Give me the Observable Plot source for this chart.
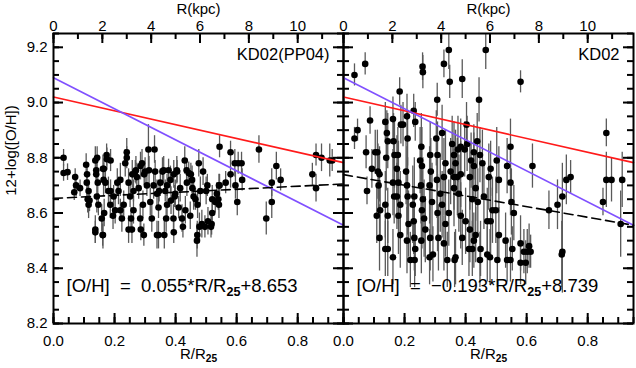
<!DOCTYPE html>
<html><head><meta charset="utf-8">
<script src="https://cdn.jsdelivr.net/npm/d3@7"></script>
<script src="https://cdn.jsdelivr.net/npm/@observablehq/plot@0.6"></script>
<style>
body{margin:0;background:#fff;}
#wrap{position:relative;width:636px;height:368px;overflow:hidden;}
#wrap svg{position:absolute;top:0;}
</style></head>
<body><div id="wrap"></div>
<script>
// ---- scale / axis values ----
const R25_KPC = 12.5;                 // kpc per R25 (top axis)
const xDomain = [0, 0.95];
const yDomain = [8.2, 9.25];
const xMajorTicks = [0, 0.2, 0.4, 0.6, 0.8];
const kpcMajorTicks = [0, 2, 4, 6, 8, 10];
const yMajorTicks = [8.2, 8.4, 8.6, 8.8, 9.0, 9.2];

// ---- panel titles, fit texts ----
const panelTitles = ["KD02(PP04)", "KD02"];
const fitTexts = ["[O/H]  =  0.055*R/R25+8.653", "[O/H]  =  \u22120.193*R/R25+8.739"];

// ---- gradient lines ----
// fitted (dashed): [slope per R/R25, intercept]
const fitLeft = [0.055, 8.653];
const fitRight = [-0.193, 8.739];
// reference gradients (slope per kpc, intercept)
const redRef = [-0.020, 9.02];
const purpleRef = [-0.045, 9.09];

// ---- data: [R/R25, 12+log(O/H), error] ----
const leftPoints = [
[0.033,8.80,0.03],[0.033,8.745,0.03],[0.046,8.748,0.03],[0.071,8.73,0.03],[0.074,8.70,0.04],[0.068,8.675,0.03],[0.087,8.69,0.03],
[0.107,8.775,0.04],[0.11,8.74,0.04],[0.109,8.71,0.05],[0.115,8.68,0.04],[0.112,8.65,0.05],[0.118,8.645,0.04],[0.115,8.63,0.05],
[0.137,8.79,0.05],[0.143,8.80,0.04],[0.14,8.755,0.05],[0.14,8.74,0.04],[0.145,8.71,0.05],[0.137,8.54,0.05],[0.137,8.53,0.04],[0.142,8.66,0.06],[0.147,8.63,0.04],
[0.162,8.76,0.05],[0.165,8.76,0.04],[0.164,8.72,0.06],[0.17,8.71,0.04],[0.162,8.52,0.05],[0.161,8.52,0.04],[0.158,8.58,0.05],[0.166,8.60,0.05],
[0.174,8.81,0.04],[0.175,8.795,0.04],[0.187,8.79,0.04],[0.18,8.68,0.05],[0.187,8.68,0.04],[0.186,8.63,0.05],[0.195,8.59,0.05],[0.197,8.66,0.04],[0.202,8.61,0.05],
[0.209,8.71,0.05],[0.213,8.68,0.05],[0.219,8.61,0.04],[0.224,8.58,0.05],[0.23,8.63,0.05],[0.219,8.72,0.06],
[0.235,8.78,0.05],[0.24,8.82,0.05],[0.24,8.80,0.04],[0.246,8.71,0.05],[0.246,8.54,0.05],[0.251,8.66,0.04],[0.257,8.54,0.05],[0.254,8.58,0.04],[0.258,8.74,0.05],[0.262,8.61,0.05],[0.262,8.68,0.04],
[0.268,8.75,0.04],[0.27,8.755,0.05],[0.273,8.73,0.05],[0.279,8.69,0.04],[0.284,8.58,0.05],[0.285,8.77,0.05],[0.29,8.78,0.05],[0.293,8.63,0.05],[0.286,8.54,0.04],[0.296,8.52,0.04],[0.297,8.74,0.04],
[0.30,8.75,0.05],[0.306,8.70,0.04],[0.311,8.83,0.09],[0.313,8.755,0.05],[0.317,8.64,0.05],[0.322,8.58,0.05],[0.328,8.70,0.05],[0.331,8.83,0.05],[0.333,8.75,0.04],[0.339,8.67,0.05],[0.339,8.52,0.05],[0.344,8.62,0.04],[0.344,8.52,0.05],[0.346,8.68,0.04],
[0.35,8.71,0.05],[0.357,8.75,0.05],[0.361,8.755,0.05],[0.363,8.52,0.05],[0.366,8.68,0.04],[0.369,8.58,0.05],[0.372,8.63,0.05],[0.372,8.70,0.04],[0.377,8.755,0.04],[0.383,8.72,0.05],[0.385,8.645,0.05],[0.394,8.74,0.05],[0.394,8.53,0.04],[0.393,8.58,0.05],[0.397,8.66,0.04],
[0.399,8.67,0.05],[0.404,8.755,0.05],[0.405,8.75,0.04],[0.41,8.62,0.04],[0.415,8.69,0.05],[0.421,8.58,0.05],[0.424,8.55,0.04],[0.43,8.79,0.05],[0.432,8.61,0.05],[0.436,8.755,0.04],[0.437,8.71,0.05],[0.443,8.745,0.04],[0.448,8.59,0.05],[0.45,8.74,0.04],[0.454,8.72,0.05],[0.455,8.69,0.04],[0.459,8.66,0.05],[0.465,8.65,0.04],
[0.47,8.50,0.06],[0.471,8.52,0.05],[0.472,8.63,0.05],[0.476,8.78,0.05],[0.481,8.68,0.05],[0.478,8.55,0.05],[0.49,8.75,0.05],[0.486,8.56,0.05],[0.496,8.55,0.04],[0.5,8.68,0.05],[0.504,8.70,0.04],[0.506,8.57,0.05],[0.516,8.55,0.04],[0.518,8.56,0.04],[0.52,8.65,0.05],[0.52,8.60,0.04],[0.53,8.64,0.04],[0.535,8.67,0.04],[0.542,8.63,0.05],[0.54,8.65,0.04],[0.542,8.70,0.04],[0.544,8.70,0.04],[0.544,8.84,0.04],[0.564,8.71,0.04],
[0.58,8.82,0.04],[0.58,8.74,0.05],[0.594,8.78,0.05],[0.596,8.70,0.05],[0.602,8.64,0.05],[0.605,8.78,0.04],[0.616,8.78,0.04],[0.618,8.72,0.04],
[0.673,8.83,0.05],[0.697,8.58,0.06],[0.715,8.71,0.05],[0.715,8.64,0.06],[0.73,8.77,0.05],[0.744,8.72,0.04],
[0.848,8.74,0.04],[0.86,8.81,0.04],[0.86,8.69,0.05],[0.878,8.80,0.05],[0.905,8.79,0.06],[0.913,8.79,0.04]
];

const rightPoints = [
[0.036,9.10,0.04],[0.071,9.14,0.04],[0.259,9.13,0.05],[0.26,9.11,0.06],[0.329,9.14,0.05],[0.345,9.19,0.07],[0.348,9.075,0.06],[0.389,9.085,0.07],
[0.466,9.19,0.07],[0.58,9.075,0.04],[0.444,9.01,0.08],[0.307,9.01,0.06],[0.184,9.04,0.05],[0.087,8.935,0.05],[0.046,8.90,0.04],[0.036,8.87,0.04],
[0.074,8.82,0.06],[0.077,8.68,0.05],[0.093,8.76,0.07],[0.104,8.82,0.08],[0.111,8.82,0.08],[0.113,8.75,0.10],[0.118,8.74,0.10],[0.115,8.70,0.12],
[0.109,8.59,0.10],[0.118,8.51,0.12],[0.12,8.61,0.10],[0.137,8.93,0.07],[0.142,8.89,0.08],[0.145,8.86,0.10],[0.14,8.80,0.12],[0.137,8.63,0.12],
[0.145,8.59,0.10],[0.137,8.47,0.10],[0.145,8.47,0.10],[0.162,8.94,0.08],[0.164,8.86,0.10],[0.167,8.81,0.12],[0.162,8.71,0.12],[0.166,8.66,0.10],
[0.162,8.44,0.10],[0.188,8.92,0.07],[0.195,8.92,0.08],[0.175,8.76,0.12],[0.178,8.81,0.10],[0.18,8.71,0.15],[0.175,8.66,0.12],[0.186,8.63,0.12],
[0.18,8.59,0.14],[0.186,8.52,0.12],[0.208,8.95,0.08],[0.21,8.87,0.10],[0.205,8.75,0.12],[0.208,8.70,0.14],[0.21,8.66,0.14],[0.213,8.56,0.12],
[0.208,8.50,0.12],[0.23,8.97,0.06],[0.235,8.93,0.07],[0.232,8.66,0.14],[0.227,8.63,0.14],[0.23,8.57,0.12],[0.232,8.51,0.12],[0.235,8.47,0.10],
[0.219,8.43,0.10],[0.233,8.43,0.10],[0.255,8.84,0.12],[0.251,8.79,0.12],[0.257,8.77,0.14],[0.254,8.70,0.14],[0.26,8.65,0.15],[0.257,8.61,0.14],
[0.264,8.58,0.14],[0.268,8.54,0.12],[0.255,8.50,0.12],[0.284,8.81,0.12],[0.286,8.75,0.12],[0.282,8.70,0.14],[0.29,8.64,0.14],[0.284,8.51,0.12],
[0.293,8.45,0.10],[0.282,8.44,0.10],[0.304,8.87,0.10],[0.308,8.81,0.12],[0.306,8.72,0.14],[0.308,8.60,0.14],[0.317,8.67,0.14],[0.311,8.51,0.12],
[0.323,8.89,0.10],[0.403,8.92,0.08],[0.397,8.83,0.10],[0.405,8.85,0.10],[0.384,8.84,0.10],[0.375,8.83,0.12],[0.356,8.85,0.10],[0.362,8.81,0.12],
[0.367,8.78,0.12],[0.373,8.73,0.14],[0.362,8.73,0.12],[0.384,8.74,0.12],[0.362,8.69,0.14],[0.378,8.67,0.14],[0.351,8.75,0.12],[0.334,8.78,0.12],
[0.329,8.73,0.14],[0.427,8.82,0.10],[0.418,8.79,0.10],[0.427,8.77,0.12],[0.414,8.73,0.12],[0.438,8.86,0.10],[0.447,8.81,0.10],[0.455,8.78,0.12],
[0.433,8.69,0.12],[0.422,8.65,0.14],[0.44,8.64,0.12],[0.46,8.66,0.12],[0.482,8.76,0.10],[0.476,8.73,0.12],[0.488,8.61,0.12],[0.471,8.57,0.12],
[0.482,8.57,0.12],[0.502,8.79,0.12],[0.509,8.72,0.12],[0.499,8.61,0.12],[0.547,8.84,0.10],[0.536,8.77,0.10],[0.547,8.71,0.12],[0.55,8.64,0.12],
[0.558,8.60,0.10],[0.58,8.49,0.10],[0.619,8.77,0.08],[0.323,8.63,0.12],[0.334,8.56,0.12],[0.345,8.60,0.12],[0.329,8.49,0.10],[0.34,8.43,0.10],
[0.367,8.44,0.10],[0.364,8.43,0.10],[0.384,8.59,0.12],[0.40,8.57,0.12],[0.389,8.51,0.10],[0.414,8.54,0.12],[0.427,8.50,0.10],[0.422,8.47,0.10],
[0.433,8.52,0.10],[0.411,8.47,0.10],[0.449,8.47,0.10],[0.447,8.43,0.10],[0.471,8.45,0.10],[0.48,8.44,0.10],[0.509,8.52,0.10],[0.504,8.43,0.10],
[0.531,8.50,0.10],[0.536,8.43,0.08],[0.547,8.43,0.08],[0.553,8.47,0.08],[0.58,8.42,0.08],[0.591,8.46,0.08],[0.602,8.46,0.08],[0.608,8.48,0.08],
[0.613,8.46,0.06],[0.597,8.42,0.08],
[0.673,8.61,0.07],[0.701,8.63,0.09],[0.717,8.66,0.12],[0.73,8.72,0.09],[0.744,8.73,0.06],[0.717,8.46,0.15],[0.715,8.45,0.12],
[0.861,8.89,0.05],[0.861,8.72,0.10],[0.878,8.72,0.08],[0.85,8.64,0.05],[0.913,8.72,0.10],[0.908,8.56,0.12]
];

const FONT = '"Liberation Sans", Arial, sans-serif';
const HEIGHT = 368, MARGIN_TOP = 33, MARGIN_BOTTOM = 45;
const PLOT_H = HEIGHT - MARGIN_TOP - MARGIN_BOTTOM;   // 290 px
const PLOT_W = 290;                                   // frame width of each panel
const MAJOR = 10, MINOR = 6, TICK_W = 2;

function toRows(pts) { return pts.map(([r, oh, e]) => ({r, oh, e})); }
function lineRows(slope, intercept, perKpc) {
  return xDomain.map(x => ({x, y: intercept + slope * (perKpc ? x * R25_KPC : x)}));
}

// inward tick marks on all four sides (tick marks inset to their length)
function inwardTicks() {
  const xMinor = d3.range(0, 0.951, 0.05);
  const kpcTicks = kpcMajorTicks.map(k => k / R25_KPC);
  const kpcMinor = d3.range(0, 12).map(k => k / R25_KPC);
  const yMinor = d3.range(8.2, 9.26, 0.05);
  const o = {stroke: "black", strokeWidth: TICK_W};
  return [
    Plot.tickX(xMajorTicks, {...o, x: d => d, insetTop: PLOT_H - MAJOR}),
    Plot.tickX(xMinor, {...o, x: d => d, insetTop: PLOT_H - MINOR}),
    Plot.tickX(kpcTicks, {...o, x: d => d, insetBottom: PLOT_H - MAJOR}),
    Plot.tickX(kpcMinor, {...o, x: d => d, insetBottom: PLOT_H - MINOR}),
    Plot.tickY(yMajorTicks, {...o, y: d => d, insetRight: PLOT_W - MAJOR}),
    Plot.tickY(yMinor, {...o, y: d => d, insetRight: PLOT_W - MINOR}),
    Plot.tickY(yMajorTicks, {...o, y: d => d, insetLeft: PLOT_W - MAJOR}),
    Plot.tickY(yMinor, {...o, y: d => d, insetLeft: PLOT_W - MINOR})
  ];
}

function panel({points, title, fitText, fit, width, marginLeft, marginRight, yLabels}) {
  const rows = toRows(points);
  const marks = [
    Plot.ruleX(rows, {x: "r", y1: d => d.oh - d.e, y2: d => d.oh + d.e, stroke: "#5a5a5a", strokeWidth: 1.3, clip: true}),
    Plot.dot(rows, {x: "r", y: "oh", r: 3.3, fill: "black", stroke: "none", clip: true}),
    Plot.line(lineRows(redRef[0], redRef[1], true), {x: "x", y: "y", stroke: "#ff1a1a", strokeWidth: 1.6}),
    Plot.line(lineRows(purpleRef[0], purpleRef[1], true), {x: "x", y: "y", stroke: "#8050ff", strokeWidth: 1.6}),
    Plot.line(lineRows(fit[0], fit[1], false), {x: "x", y: "y", stroke: "black", strokeWidth: 1.6, strokeDasharray: "9,5"}),
    // tick labels
    Plot.axisX({anchor: "bottom", ticks: xMajorTicks, tickSize: 0, tickPadding: 12, tickFormat: d3.format(".1f"), fontSize: 15, label: null}),
    Plot.axisX({anchor: "top", ticks: kpcMajorTicks.map(k => k / R25_KPC), tickSize: 0, tickPadding: 3, tickFormat: d => String(Math.round(d * R25_KPC)), fontSize: 15, label: null}),
    Plot.axisY({anchor: "left", ticks: yMajorTicks, tickSize: 0, tickPadding: 6, tickFormat: yLabels ? d3.format(".1f") : () => "", fontSize: 15, label: null}),
    Plot.frame({stroke: "black", strokeWidth: 2}),
    ...inwardTicks(),
    // texts
    Plot.text([title], {text: d => d, frameAnchor: "top-right", textAnchor: "end", lineAnchor: "bottom", dx: -14, dy: 26, fontSize: 16.5}),
    Plot.text([fitText], {text: d => d, frameAnchor: "bottom-left", textAnchor: "start", lineAnchor: "bottom", dx: 13, dy: -32, fontSize: 18.5}),
    Plot.text(["R/R25"], {text: d => d, frameAnchor: "bottom", textAnchor: "middle", lineAnchor: "bottom", dy: 35, fontSize: 15}),
    Plot.text(["R(kpc)"], {text: d => d, frameAnchor: "top", textAnchor: "middle", lineAnchor: "bottom", dy: -20, fontSize: 15})
  ];
  if (yLabels) {
    marks.push(Plot.text(["12+log([O/H])"], {text: d => d, frameAnchor: "left", textAnchor: "middle", lineAnchor: "middle", rotate: -90, dx: -42, dy: -28, fontSize: 15}));
  }
  return Plot.plot({
    width, height: HEIGHT,
    marginTop: MARGIN_TOP, marginBottom: MARGIN_BOTTOM, marginLeft, marginRight,
    x: {domain: xDomain},
    y: {domain: yDomain},
    style: {background: "transparent", overflow: "visible", fontFamily: FONT, color: "black"},
    marks
  });
}

const wrap = document.getElementById("wrap");
const left = panel({points: leftPoints, title: panelTitles[0], fitText: fitTexts[0], fit: fitLeft, width: 53 + PLOT_W, marginLeft: 53, marginRight: 0, yLabels: true});
const right = panel({points: rightPoints, title: panelTitles[1], fitText: fitTexts[1], fit: fitRight, width: PLOT_W + 3, marginLeft: 0, marginRight: 3, yLabels: false});
left.style.left = "0px";
right.style.left = (53 + PLOT_W) + "px";
wrap.appendChild(left);
wrap.appendChild(right);

// subscript "25" in R/R25
function subscriptify(svg) {
  const ns = "http://www.w3.org/2000/svg";
  svg.querySelectorAll("text").forEach(t => {
    const s = t.textContent;
    const i = s.indexOf("R/R25");
    if (i < 0) return;
    const fs = parseFloat(getComputedStyle(t).fontSize) || 15;
    const before = s.slice(0, i + 3), after = s.slice(i + 5);
    while (t.firstChild) t.removeChild(t.firstChild);
    t.appendChild(document.createTextNode(before));
    const sub = document.createElementNS(ns, "tspan");
    sub.setAttribute("font-size", (fs * 0.68).toFixed(1));
    sub.setAttribute("font-weight", "bold");
    sub.setAttribute("dy", (fs * 0.25).toFixed(1));
    sub.textContent = "25";
    t.appendChild(sub);
    if (after) {
      const a = document.createElementNS(ns, "tspan");
      a.setAttribute("dy", (-fs * 0.25).toFixed(1));
      a.textContent = after;
      t.appendChild(a);
    }
  });
}
subscriptify(left);
subscriptify(right);
</script>
</body></html>
